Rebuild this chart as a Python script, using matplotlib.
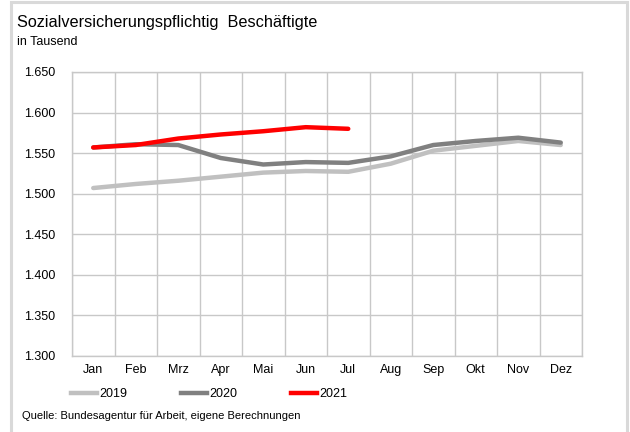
import matplotlib
matplotlib.use("Agg")
import matplotlib.pyplot as plt
from matplotlib.patches import Rectangle
from matplotlib.lines import Line2D

months = ["Jan", "Feb", "Mrz", "Apr", "Mai", "Jun", "Jul", "Aug", "Sep", "Okt", "Nov", "Dez"]
y2019 = [1507, 1512, 1516, 1521, 1526, 1528, 1527, 1537, 1553, 1559, 1565, 1560]
y2020 = [1557, 1561, 1560, 1544, 1536, 1539, 1538, 1546, 1560, 1565, 1569, 1563]
y2021 = [1557, 1560, 1568, 1573, 1577, 1582, 1580]
yticks = [1300, 1350, 1400, 1450, 1500, 1550, 1600, 1650]
ytick_labels = ["1.300", "1.350", "1.400", "1.450", "1.500", "1.550", "1.600", "1.650"]

plt.rcParams["font.family"] = ["Liberation Sans", "DejaVu Sans"]

W, H = 630, 432
fig = plt.figure(figsize=(W / 100, H / 100), dpi=100)

# outer frame
fig.patches.append(Rectangle((11 / W, -0.05), (627 - 11) / W, (H - 2) / H + 0.05,
                             transform=fig.transFigure, fill=False,
                             edgecolor="#d9d9d9", linewidth=2.2))

ax = fig.add_axes([72 / W, 1 - 356 / H, (582 - 72) / W, (356 - 72) / H])
x = list(range(len(months)))
ax.plot(x, y2019, color="#c0c0c0", linewidth=3.2, solid_capstyle="round", zorder=3)
ax.plot(x, y2020, color="#808080", linewidth=3.2, solid_capstyle="round", zorder=4)
ax.plot(x[:len(y2021)], y2021, color="#ff0000", linewidth=3.2, solid_capstyle="round", zorder=5)

ax.set_xlim(-0.5, len(months) - 0.5)
ax.set_ylim(1300, 1650)
ax.set_yticks(yticks)
ax.set_yticklabels(ytick_labels)
ax.set_xticks(x)
ax.set_xticklabels(months)
ax.set_xticks([i - 0.5 for i in range(len(months) + 1)], minor=True)
ax.tick_params(axis="both", which="both", length=0, labelsize=9, colors="#000000")
ax.tick_params(axis="y", pad=12)
ax.tick_params(axis="x", pad=6)
ax.grid(True, which="minor", axis="x", color="#c8c8c8", linewidth=1)
ax.grid(True, which="major", axis="y", color="#c8c8c8", linewidth=1)
ax.grid(False, which="major", axis="x")
for s in ax.spines.values():
    s.set_color("#c8c8c8")
    s.set_linewidth(1)

fig.text(17 / W, 1 - 22 / H, "Sozialversicherungspflichtig  Beschäftigte", fontsize=11.7,
         va="center", ha="left")
fig.text(17 / W, 1 - 42 / H, "in Tausend", fontsize=9, va="center", ha="left")

handles = [Line2D([], [], color="#c0c0c0", linewidth=3.2),
           Line2D([], [], color="#808080", linewidth=3.2),
           Line2D([], [], color="#ff0000", linewidth=3.2)]
fig.legend(handles, ["2019", "2020", "2021"], loc="center left",
           bbox_to_anchor=(71 / W, 1 - 394 / H), ncol=3, frameon=False,
           fontsize=9, handlelength=2.1, handletextpad=0.15, columnspacing=4.3,
           borderaxespad=0, borderpad=0)

fig.text(22 / W, 1 - 416 / H, "Quelle: Bundesagentur für Arbeit, eigene Berechnungen",
         fontsize=8, va="center", ha="left")

fig.savefig("out.png", dpi=100)
